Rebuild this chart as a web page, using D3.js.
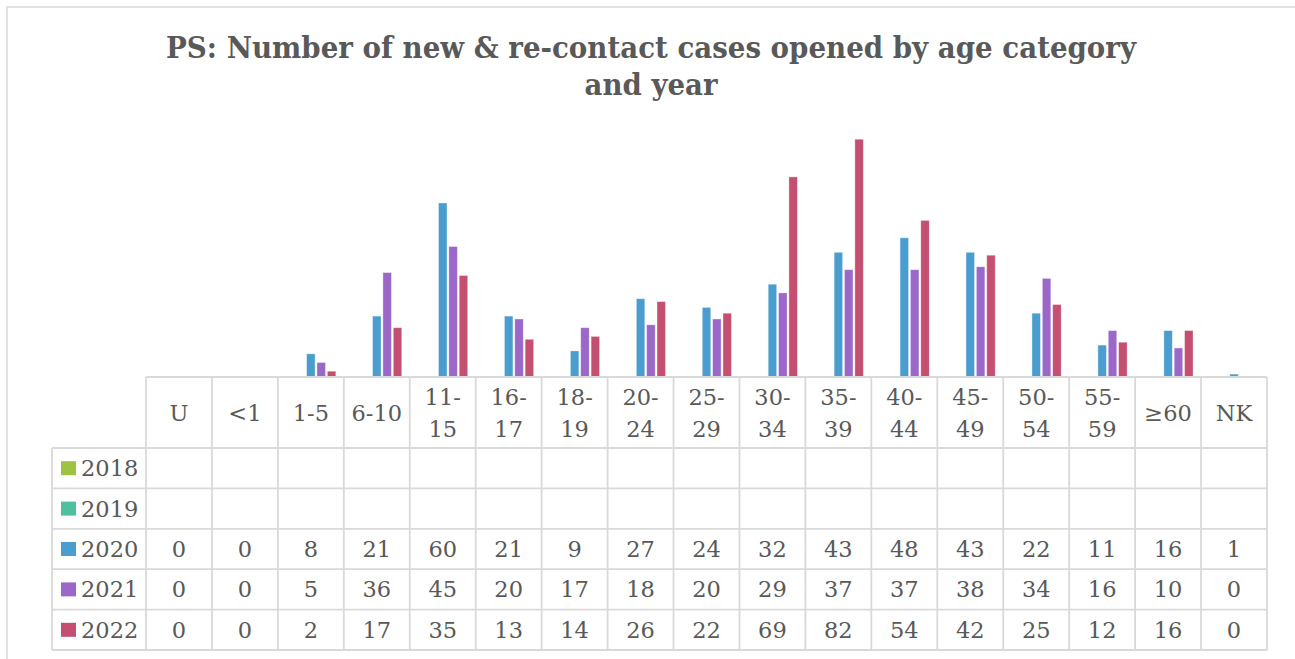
<!DOCTYPE html>
<html>
<head>
<meta charset="utf-8">
<script src="https://cdn.jsdelivr.net/npm/d3@7"></script>
<style>
  html, body { margin: 0; padding: 0; background: #fff; }
  svg { display: block; }
</style>
</head>
<body>
<svg id="chart" width="1295" height="659"></svg>
<script>
// ---- data ----
const categories = ["U", "<1", "1-5", "6-10", "11-15", "16-17", "18-19", "20-24", "25-29", "30-34", "35-39", "40-44", "45-49", "50-54", "55-59", "≥60", "NK"];
const categoryLines = [["U"], ["<1"], ["1-5"], ["6-10"], ["11-", "15"], ["16-", "17"], ["18-", "19"], ["20-", "24"], ["25-", "29"], ["30-", "34"], ["35-", "39"], ["40-", "44"], ["45-", "49"], ["50-", "54"], ["55-", "59"], ["≥60"], ["NK"]];
const years = ["2018", "2019", "2020", "2021", "2022"];
const values2018 = [];
const values2019 = [];
const values2020 = [0, 0, 8, 21, 60, 21, 9, 27, 24, 32, 43, 48, 43, 22, 11, 16, 1];
const values2021 = [0, 0, 5, 36, 45, 20, 17, 18, 20, 29, 37, 37, 38, 34, 16, 10, 0];
const values2022 = [0, 0, 2, 17, 35, 13, 14, 26, 22, 69, 82, 54, 42, 25, 12, 16, 0];
const colors = ["#9dc340", "#4fbfa0", "#4a9ecf", "#9b67c9", "#c44f71"];
const titleLines = ["PS: Number of new & re-contact cases opened by age category", "and year"];

const seriesValues = [values2018, values2019, values2020, values2021, values2022];

// ---- layout ----
const svg = d3.select("#chart");
const textColor = "#595959";
const gridColor = "#d9d9d9";
const tableLeft = 52, colLeft = 146, tableRight = 1267;
const headerTop = 377, headerBottom = 448, rowH = 40.4;

// outer border
svg.append("rect").attr("x", 7).attr("y", 7).attr("width", 1300).attr("height", 700)
  .attr("fill", "#fff").attr("stroke", gridColor).attr("stroke-width", 1.5);

// title
const title = svg.append("text").attr("text-anchor", "middle")
  .attr("font-family", "'DejaVu Serif', serif").attr("font-weight", "bold")
  .attr("fill", textColor).attr("font-size", 29);
title.append("tspan").attr("x", 651).attr("y", 58).text(titleLines[0])
  .attr("textLength", 970).attr("lengthAdjust", "spacingAndGlyphs");
title.append("tspan").attr("x", 651).attr("y", 95).text(titleLines[1])
  .attr("textLength", 133).attr("lengthAdjust", "spacingAndGlyphs");

// scales
const x = d3.scaleBand().domain(categories).range([colLeft, tableRight]).padding(0);
const xs = d3.scaleBand().domain(years).range([8, x.bandwidth() - 8]).paddingInner(0.18);
const y = d3.scaleLinear().domain([0, 90]).range([headerTop, 116]);

// bars
years.forEach((yr, si) => {
  const vals = seriesValues[si];
  svg.append("g").selectAll("rect").data(vals).enter().append("rect")
    .attr("x", (d, i) => x(categories[i]) + xs(yr))
    .attr("y", d => y(d))
    .attr("width", xs.bandwidth())
    .attr("height", d => y(0) - y(d))
    .attr("fill", colors[si])
    .attr("stroke", "#ffffff").attr("stroke-opacity", 0.45).attr("stroke-width", 0.8);
});

// table grid
const rowY = d3.range(years.length + 1).map(i => headerBottom + i * rowH);
const grid = svg.append("g").attr("stroke", gridColor).attr("stroke-width", 1.8).attr("fill", "none");
grid.append("line").attr("x1", colLeft).attr("x2", tableRight).attr("y1", headerTop).attr("y2", headerTop);
rowY.forEach(yy => grid.append("line").attr("x1", tableLeft).attr("x2", tableRight).attr("y1", yy).attr("y2", yy));
grid.append("line").attr("x1", tableLeft).attr("x2", tableLeft).attr("y1", headerBottom).attr("y2", rowY[rowY.length - 1]);
categories.forEach(c => grid.append("line").attr("x1", x(c)).attr("x2", x(c)).attr("y1", headerTop).attr("y2", rowY[rowY.length - 1]));
grid.append("line").attr("x1", tableRight).attr("x2", tableRight).attr("y1", headerTop).attr("y2", rowY[rowY.length - 1]);

const font = "'DejaVu Serif', serif";
const fs = 22.5;

// header labels
const hdr = svg.append("g").attr("font-family", font).attr("font-size", fs).attr("fill", textColor).attr("text-anchor", "middle");
categories.forEach((c, i) => {
  const lines = categoryLines[i];
  const cx = x(c) + x.bandwidth() / 2;
  if (lines.length === 1) {
    hdr.append("text").attr("x", cx).attr("y", 421).text(lines[0]);
  } else {
    hdr.append("text").attr("x", cx).attr("y", 405).text(lines[0]);
    hdr.append("text").attr("x", cx).attr("y", 437).text(lines[1]);
  }
});

// legend column + values
const body = svg.append("g").attr("font-family", font).attr("font-size", fs).attr("fill", textColor);
years.forEach((yr, si) => {
  const top = rowY[si];
  const mid = top + rowH / 2;
  body.append("rect").attr("x", 61).attr("y", mid - 7).attr("width", 15).attr("height", 14).attr("fill", colors[si]);
  body.append("text").attr("x", 81).attr("y", mid + 8).text(yr);
  const vals = seriesValues[si];
  vals.forEach((v, i) => {
    body.append("text").attr("x", x(categories[i]) + x.bandwidth() / 2).attr("y", mid + 8)
      .attr("text-anchor", "middle").text(v);
  });
});
</script>
</body>
</html>
